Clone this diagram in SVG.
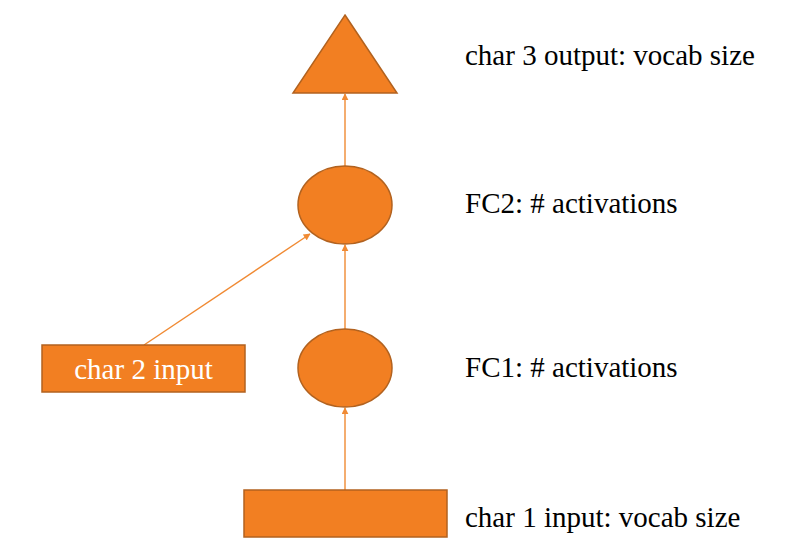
<svg xmlns="http://www.w3.org/2000/svg" width="792" height="544" viewBox="0 0 792 544">
<style>
.n{fill:#F27F22;stroke:#B2621F;stroke-width:1.5}
.c{stroke:#F08A33;stroke-width:1.4;fill:none;marker-end:url(#a)}
.t{font-family:"Liberation Serif",serif;font-size:29px;fill:#000}
.w{font-family:"Liberation Serif",serif;font-size:29px;fill:#fff;text-anchor:middle}
</style>
<defs>
<marker id="a" viewBox="0 0 10 10" refX="9" refY="5" markerWidth="7" markerHeight="7" markerUnits="userSpaceOnUse" orient="auto">
<path d="M0,0L10,5L0,10z" fill="#F08A33"/>
</marker>
</defs>
<rect width="792" height="544" fill="#fff"/>
<g id="connectors">
<line class="c" x1="345" y1="166" x2="345" y2="94"/>
<line class="c" x1="345" y1="329" x2="345" y2="245"/>
<line class="c" x1="345" y1="490" x2="345" y2="408"/>
<line class="c" x1="144" y1="345" x2="310" y2="234"/>
</g>
<g id="out"><polygon class="n" points="345,15 397,93 293,93"/></g>
<g id="fc2"><ellipse class="n" cx="345" cy="205" rx="47" ry="39"/></g>
<g id="fc1"><ellipse class="n" cx="345" cy="368" rx="47" ry="39"/></g>
<g id="char1"><rect class="n" x="244" y="490" width="203" height="47"/></g>
<g id="char2"><rect class="n" x="42" y="345" width="203" height="47"/><text class="w" x="143.5" y="379">char 2 input</text></g>
<g id="labels">
<text class="t" x="465" y="65">char 3 output: vocab size</text>
<text class="t" x="465" y="213">FC2: # activations</text>
<text class="t" x="465" y="377">FC1: # activations</text>
<text class="t" x="465" y="527">char 1 input: vocab size</text>
</g>
</svg>
